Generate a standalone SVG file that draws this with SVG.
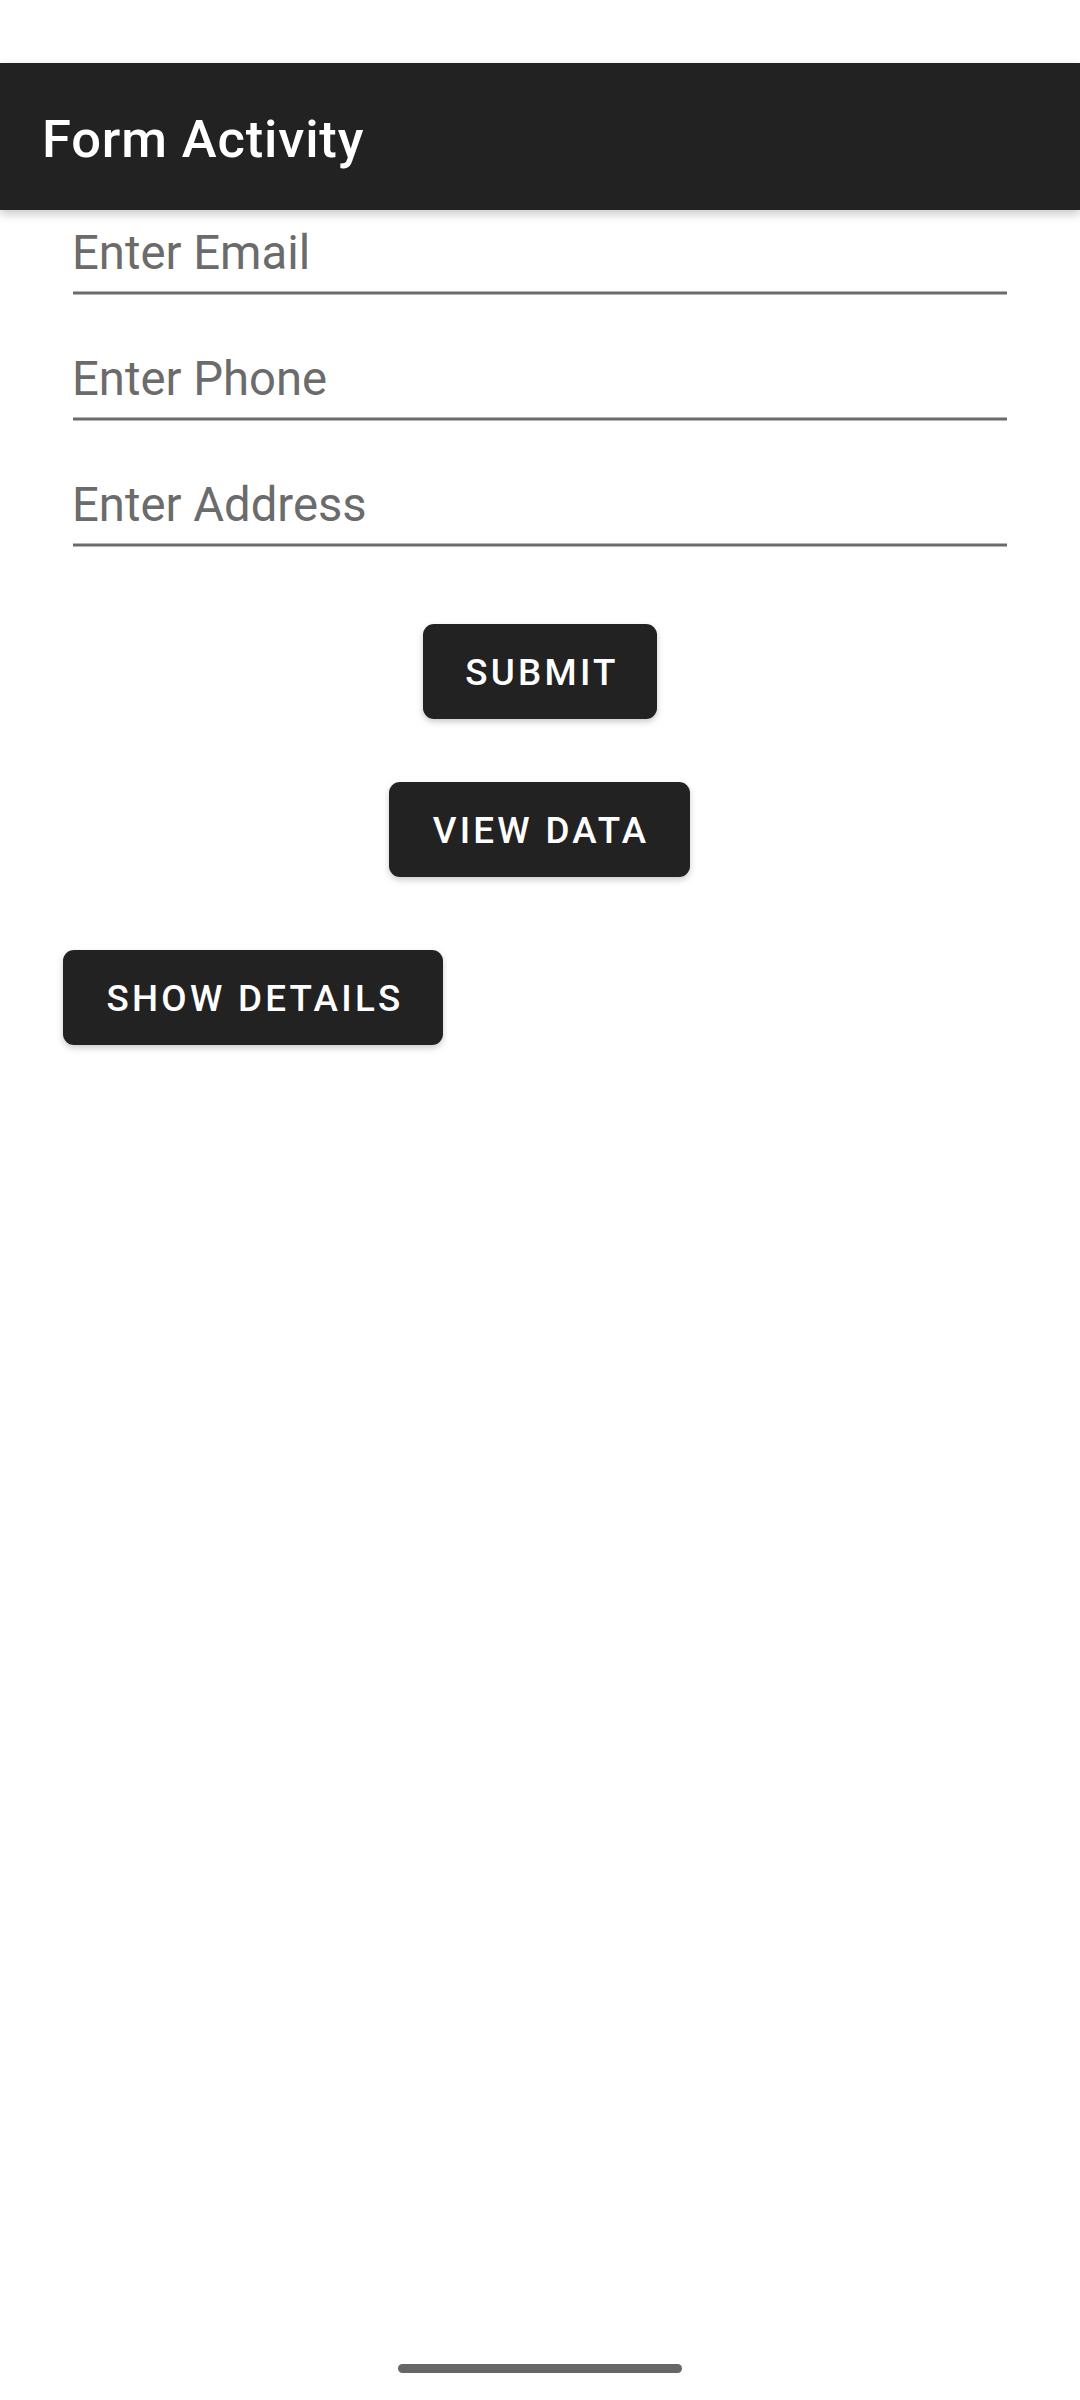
<svg xmlns="http://www.w3.org/2000/svg" width="1080" height="2400" viewBox="0 0 1080 2400">
  <style>
    .title { font-family: Roboto, "Liberation Sans", sans-serif; font-weight: 500; font-size: 52.5px; fill: #ffffff; letter-spacing: 0.85px; }
    .hint { font-family: Roboto, "Liberation Sans", sans-serif; font-weight: 400; font-size: 47.25px; fill: #6b6b6b; }
    .uline { stroke: #6b6b6b; stroke-width: 3; }
    .btn { fill: #212121; }
    .btnText { font-family: Roboto, "Liberation Sans", sans-serif; font-weight: 500; font-size: 36.75px; fill: #ffffff; letter-spacing: 3.28px; text-anchor: middle; }
  </style>
  <defs>
    <filter id="barShadow" x="-5%" y="-30%" width="110%" height="160%">
      <feDropShadow dx="0" dy="4" stdDeviation="5" flood-color="#000000" flood-opacity="0.22"/>
    </filter>
    <filter id="btnShadow" x="-10%" y="-20%" width="120%" height="150%">
      <feDropShadow dx="0" dy="3" stdDeviation="3" flood-color="#000000" flood-opacity="0.2"/>
    </filter>
  </defs>
  <rect x="0" y="0" width="1080" height="2400" fill="#ffffff"/>

  <g id="appbar">
    <rect x="0" y="63" width="1080" height="147" fill="#212121" filter="url(#barShadow)"/>
    <text class="title" x="42" y="157">Form Activity</text>
  </g>

  <g id="field-email">
    <text class="hint" x="72" y="269">Enter Email</text>
    <line class="uline" x1="73" y1="293" x2="1007" y2="293"/>
  </g>
  <g id="field-phone">
    <text class="hint" x="72" y="395">Enter Phone</text>
    <line class="uline" x1="73" y1="419" x2="1007" y2="419"/>
  </g>
  <g id="field-address">
    <text class="hint" x="72" y="521">Enter Address</text>
    <line class="uline" x1="73" y1="545" x2="1007" y2="545"/>
  </g>

  <g id="btn-submit">
    <rect class="btn" x="423" y="624" width="234" height="95" rx="11" filter="url(#btnShadow)"/>
    <text class="btnText" x="542" y="685">SUBMIT</text>
  </g>
  <g id="btn-viewdata">
    <rect class="btn" x="389" y="782" width="301" height="95" rx="11" filter="url(#btnShadow)"/>
    <text class="btnText" x="541" y="843">VIEW DATA</text>
  </g>
  <g id="btn-showdetails">
    <rect class="btn" x="63" y="950" width="380" height="95" rx="11" filter="url(#btnShadow)"/>
    <text class="btnText" x="255" y="1011">SHOW DETAILS</text>
  </g>

  <g id="connectors"/>

  <g id="home-indicator">
    <rect x="398" y="2364" width="284" height="9" rx="4.5" fill="#666666"/>
  </g>
</svg>
